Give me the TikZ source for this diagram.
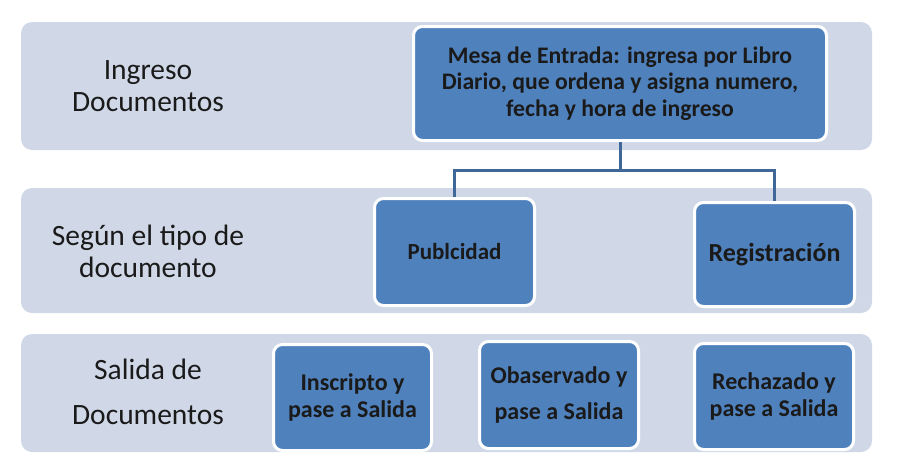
\documentclass[tikz,border=0pt]{standalone}
\usepackage{fontspec}
\setmainfont{Carlito}
\definecolor{bandc}{HTML}{D0D8E8}
\definecolor{boxc}{HTML}{4F81BD}
\definecolor{linec}{HTML}{3F6797}
\definecolor{txtc}{HTML}{1A1A1A}
\begin{document}
\begin{tikzpicture}[x=1pt,y=-1pt,
  band/.style={fill=bandc,draw=none,rounded corners=11pt},
  bluebox/.style={rectangle,fill=boxc,draw=white,line width=3pt,rounded corners=9pt,
    align=center,text=txtc,font=\bfseries\fontsize{24}{27}\selectfont,inner sep=1pt},
  lbl/.style={align=center,text=txtc,inner sep=0pt},
  conn/.style={draw=linec,line width=3pt}]
\useasboundingbox (0,0) rectangle (897,471);
% bands
\path[band] (21,22) rectangle (872,150);
\path[band] (21,188) rectangle (872,313);
\path[band] (21,334) rectangle (872,452);
% row labels
\node[lbl,font=\fontsize{29.5}{32}\selectfont] (l1) at (148,86) {Ingreso\\Documentos};
\node[lbl,font=\fontsize{29.5}{32}\selectfont] (l2) at (148,251) {Según el tipo de\\documento};
\node[lbl,font=\fontsize{29.5}{45}\selectfont] (l3) at (148,392) {Salida de\\Documentos};
% boxes
\node[bluebox,minimum width=413pt,minimum height=114pt,font=\bfseries\fontsize{23.7}{26.5}\selectfont] (mesa) at (620,83.5)
  {Mesa de Entrada: ingresa por Libro\\Diario, que ordena y asigna numero,\\fecha y hora de ingreso};
\node[bluebox,minimum width=160pt,minimum height=107pt,font=\bfseries\fontsize{23}{25}\selectfont] (pub) at (454.5,252) {Publcidad};
\node[bluebox,minimum width=160pt,minimum height=104pt,font=\bfseries\fontsize{26}{28}\selectfont] (reg) at (774.5,254.5) {Registración};
\node[bluebox,minimum width=158pt,minimum height=106pt] (ins) at (352.5,397.5) {Inscripto y\\pase a Salida};
\node[bluebox,minimum width=159pt,minimum height=107pt,font=\bfseries\fontsize{24}{36}\selectfont] (obs) at (559,395) {Obaservado y\\pase a Salida};
\node[bluebox,minimum width=159pt,minimum height=106pt] (rec) at (774,396.5) {Rechazado y\\pase a Salida};
% connectors
\coordinate (j) at (mesa.south |- 0,170);
\draw[conn] (mesa.south) -- (j) -| (pub.north);
\draw[conn] (j) -| (reg.north);
\end{tikzpicture}
\end{document}
